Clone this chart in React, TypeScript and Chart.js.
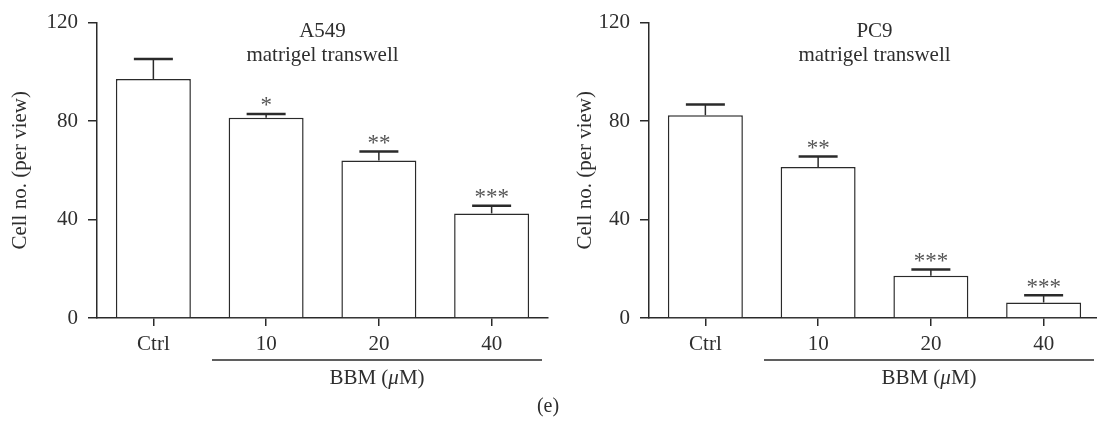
import React, { useEffect, useRef } from 'react';
import { Chart, registerables } from 'chart.js';

Chart.register(...registerables);

// ---- data ----
const categories = ['Ctrl', '10', '20', '40'];
const yTicks = [0, 40, 80, 120];

const a549Values = [97.1, 81.3, 64.0, 42.5];
const a549Errors = [8.1, 1.6, 3.6, 3.1];
const a549Stars = ['', '*', '**', '***'];

const pc9Values = [82.4, 61.3, 17.2, 6.3];
const pc9Errors = [4.3, 4.3, 2.5, 2.9];
const pc9Stars = ['', '**', '***', '***'];

const yAxisTitle = 'Cell no. (per view)';
const groupLabelPre = 'BBM (';
const groupLabelMu = 'μ';
const groupLabelPost = 'M)';
const subTitle = 'matrigel transwell';

// ---- style ----
const FONT = '"Liberation Serif", "Times New Roman", serif';
const FS = 21;
const INK = '#2a2a2a';
const TEXT = '#2e2e2e';
const STAR = '#555555';

type PanelProps = {
  left: number;
  name: string;
  values: number[];
  errors: number[];
  stars: string[];
  yTitleX: number;
};

function Panel({ left, name, values, errors, stars, yTitleX }: PanelProps) {
  const ref = useRef<HTMLCanvasElement | null>(null);

  useEffect(() => {
    if (!ref.current) return;
    const overlay = {
      id: 'overlay',
      afterDatasetsDraw(chart: any) {
        const ctx = chart.ctx as CanvasRenderingContext2D;
        const meta = chart.getDatasetMeta(0);
        const y = chart.scales.y;
        ctx.save();
        ctx.strokeStyle = INK;
        ctx.lineCap = 'butt';
        meta.data.forEach((bar: any, i: number) => {
          const top = y.getPixelForValue(values[i] + errors[i]);
          const x = bar.x;
          ctx.lineWidth = 1.5;
          ctx.beginPath();
          ctx.moveTo(x, bar.y);
          ctx.lineTo(x, top);
          ctx.stroke();
          ctx.lineWidth = 2.5;
          ctx.beginPath();
          ctx.moveTo(x - 19.5, top);
          ctx.lineTo(x + 19.5, top);
          ctx.stroke();
          const s = stars[i];
          if (s) {
            ctx.fillStyle = STAR;
            ctx.font = `23px ${FONT}`;
            ctx.textAlign = 'center';
            ctx.textBaseline = 'alphabetic';
            const n = s.length;
            for (let k = 0; k < n; k++) {
              const cx = x + (k - (n - 1) / 2) * 11.5;
              ctx.fillText('*', cx, top - 12 + 10.5);
            }
          }
        });
        ctx.restore();
      },
      afterDraw(chart: any) {
        const ctx = chart.ctx as CanvasRenderingContext2D;
        const area = chart.chartArea;
        const cx = (area.left + area.right) / 2;
        ctx.save();
        ctx.fillStyle = TEXT;
        ctx.font = `${FS}px ${FONT}`;
        ctx.textAlign = 'center';
        ctx.textBaseline = 'middle';
        ctx.fillText(name, cx, 31);
        ctx.fillText(subTitle, cx, 55);

        // y-axis title
        ctx.save();
        ctx.translate(yTitleX, (area.top + area.bottom) / 2);
        ctx.rotate(-Math.PI / 2);
        ctx.fillText(yAxisTitle, 0, 0);
        ctx.restore();

        // group underline
        const x0 = area.left + 115;
        const x1 = area.left + 445;
        ctx.strokeStyle = INK;
        ctx.lineWidth = 1.5;
        ctx.beginPath();
        ctx.moveTo(x0, 360);
        ctx.lineTo(x1, 360);
        ctx.stroke();

        // group label with italic mu
        const normal = `${FS}px ${FONT}`;
        const italic = `italic ${FS}px ${FONT}`;
        ctx.font = normal;
        const w1 = ctx.measureText(groupLabelPre).width;
        const w3 = ctx.measureText(groupLabelPost).width;
        ctx.font = italic;
        const w2 = ctx.measureText(groupLabelMu).width;
        let sx = (x0 + x1) / 2 - (w1 + w2 + w3) / 2;
        ctx.textAlign = 'left';
        ctx.font = normal;
        ctx.fillText(groupLabelPre, sx, 378);
        sx += w1;
        ctx.font = italic;
        ctx.fillText(groupLabelMu, sx, 378);
        sx += w2;
        ctx.font = normal;
        ctx.fillText(groupLabelPost, sx, 378);
        ctx.restore();
      },
    };

    const chart = new Chart(ref.current, {
      type: 'bar',
      data: {
        labels: categories,
        datasets: [
          {
            data: values,
            backgroundColor: '#ffffff',
            borderColor: INK,
            borderWidth: 1.5,
            categoryPercentage: 1,
            barPercentage: 0.665,
          },
        ],
      },
      options: {
        responsive: false,
        animation: false,
        devicePixelRatio: 1,
        layout: { padding: { top: 18, right: 12, left: 0, bottom: 0 } },
        plugins: {
          legend: { display: false },
          tooltip: { enabled: false },
          title: { display: false },
        },
        scales: {
          x: {
            offset: true,
            afterFit: (scale: any) => {
              scale.height = 114;
            },
            grid: {
              display: true,
              drawOnChartArea: false,
              drawTicks: true,
              tickLength: 8,
              offset: false,
              color: INK,
              lineWidth: 1.5,
            },
            border: { display: true, color: INK, width: 1.5 },
            ticks: {
              color: TEXT,
              padding: 6,
              font: { family: FONT, size: FS },
              maxRotation: 0,
              autoSkip: false,
            },
          },
          y: {
            min: 0,
            max: 120,
            afterFit: (scale: any) => {
              scale.width = 97;
            },
            afterBuildTicks: (scale: any) => {
              scale.ticks = yTicks.map((v) => ({ value: v }));
            },
            grid: {
              display: true,
              drawOnChartArea: false,
              drawTicks: true,
              tickLength: 9,
              color: INK,
              lineWidth: 1.5,
            },
            border: { display: true, color: INK, width: 1.5 },
            ticks: {
              color: TEXT,
              padding: 10,
              font: { family: FONT, size: FS },
            },
          },
        },
      },
      plugins: [overlay],
    } as any);

    return () => chart.destroy();
  }, [name, values, errors, stars, yTitleX]);

  return (
    <canvas
      ref={ref}
      width={560}
      height={432}
      style={{ position: 'absolute', left, top: 0, width: 560, height: 432, display: 'block' }}
    />
  );
}

export default function App() {
  return (
    <div
      style={{
        position: 'fixed',
        left: 0,
        top: 0,
        width: 1097,
        height: 432,
        overflow: 'hidden',
        background: '#ffffff',
      }}
    >
      <Panel left={0} name="A549" values={a549Values} errors={a549Errors} stars={a549Stars} yTitleX={20.5} />
      <Panel left={552} name="PC9" values={pc9Values} errors={pc9Errors} stars={pc9Stars} yTitleX={33.5} />
      <div
        style={{
          position: 'absolute',
          left: 548,
          top: 393,
          transform: 'translateX(-50%)',
          fontFamily: FONT,
          fontSize: 20,
          lineHeight: '24px',
          color: TEXT,
        }}
      >
        (e)
      </div>
    </div>
  );
}
